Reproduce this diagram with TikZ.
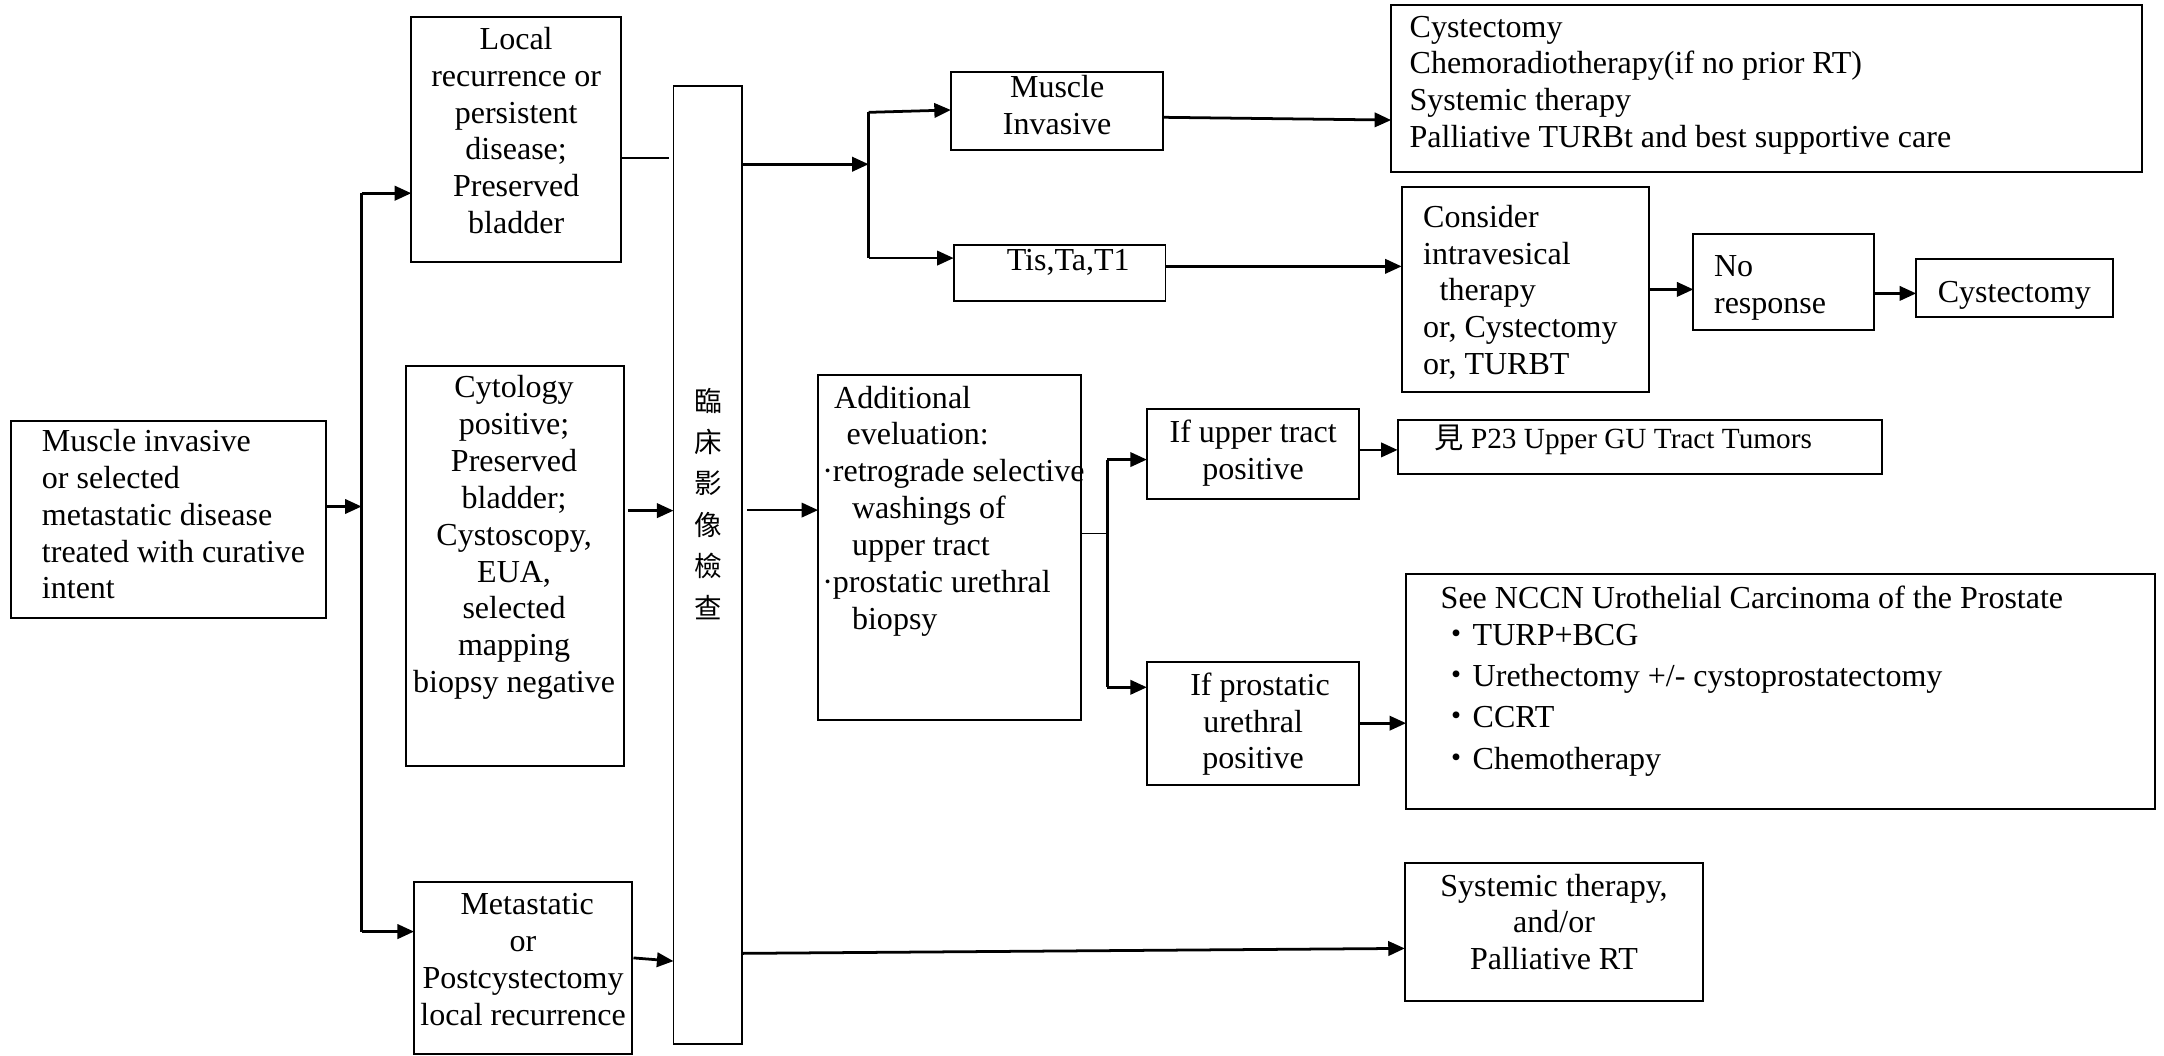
\documentclass[tikz,border=0pt]{standalone}
\usepackage{fontspec}
\setmainfont{Liberation Serif}
\newfontfamily\cjk{Noto Sans CJK TC}
\usetikzlibrary{arrows.meta,fit}

\begin{document}
\begin{tikzpicture}[x=0.5pt,y=-0.5pt,
  box/.style={draw, line width=0.7pt, inner sep=0pt, outer sep=0pt, rectangle},
  txt/.style={inner sep=0pt, yshift=-2pt, font=\fontsize{11.6}{13.35}\selectfont,
    execute at begin node=\strut, execute at end node=\strut},
  arr/.style={line width=1pt, -{Triangle[length=6pt,width=5.2pt]}},
  ln/.style={line width=1pt},
  thinln/.style={line width=0.65pt}]

\useasboundingbox (0,0) rectangle (1568,765);

% ---- boxes ----
\node[box, fit={(8,305) (236,448)}]          (main)  {};
\node[box, fit={(298,12) (450,190)}]         (local) {};
\node[box, fit={(294,265) (452,555)}]        (cyto)  {};
\node[box, fit={(300,639) (458,764)}]        (meta)  {};
\node[box, fit={(488,62) (537.5,756.5)}]     (bar)   {};
\node[box, fit={(689,52.5) (843,108.5)}]     (mus)   {};
\node[box, fit={(691,177.5) (844.5,218)}]    (tis)   {};
\node[box, fit={(1008,3.6) (1551.8,124.4)}]  (cyst)  {};
\node[box, fit={(1015.6,135.3) (1194.6,283.8)}] (cons) {};
\node[box, fit={(1227,169.8) (1358,239)}]    (nores) {};
\node[box, fit={(1388.4,188) (1531,230)}]    (cysttwo) {};
\node[box, fit={(592.8,271.7) (783,521.7)}]  (add)   {};
\node[box, fit={(831,296.4) (984.8,361.8)}]  (upper) {};
\node[box, fit={(831,479.5) (984.8,568.8)}]  (prost) {};
\node[box, fit={(1012.7,304.3) (1363.8,343.5)}] (see) {};
\node[box, fit={(1018.8,416) (1561.6,586.4)}] (nccn) {};
\node[box, fit={(1017.9,625) (1233.9,725)}]  (sys)   {};

% ---- texts ----
\node[txt, anchor=west, align=left] (mainT) at (30,372.5)
  {Muscle invasive\\or selected\\metastatic disease\\treated with curative\\intent};
\node[txt, align=center] (localT) at (374,94.5)
  {Local\\recurrence or\\persistent\\disease;\\Preserved\\bladder};
\node[txt, align=center] (cytoT) at (372.5,387)
  {Cytology\\positive;\\Preserved\\bladder;\\Cystoscopy,\\EUA,\\selected\\mapping\\biopsy negative};
\node[txt, align=center] (metaT) at (379,695)
  {\hspace*{3pt}Metastatic\\or\\Postcystectomy\\local recurrence};
\node[inner sep=0pt, align=center, font=\cjk\fontsize{10}{15}\selectfont] (barT) at (513,365)
  {臨\\床\\影\\像\\檢\\查};
\node[txt, align=center] (musT) at (766,76) {Muscle\\Invasive};
\node[txt] (tisT) at (774,187) {Tis,Ta,T1};
\node[txt, anchor=west, align=left] (cystT) at (1021,59.2)
  {Cystectomy\\Chemoradiotherapy(if no prior RT)\\Systemic therapy\\Palliative TURBt and best supportive care};
\node[txt, anchor=west, align=left] (consT) at (1030.8,210)
  {Consider\\intravesical\\\hspace*{6pt}therapy\\or, Cystectomy\\or, TURBT};
\node[txt, anchor=west, align=left] (noresT) at (1241.6,206) {No\\response};
\node[txt] (cysttwoT) at (1459.5,210) {Cystectomy};
\node[txt, anchor=west, align=left] (addT) at (595.4,367.7)
  {\hspace*{4.3pt}Additional\\\hspace*{8.8pt}eveluation:\\·retrograde selective\\\hspace*{10.8pt}washings of\\\hspace*{10.8pt}upper tract\\·prostatic urethral\\\hspace*{10.8pt}biopsy};
\node[txt, align=center] (upperT) at (908,326.1) {If upper tract\\positive};
\node[txt, align=center] (prostT) at (908,522.3) {\hspace*{5pt}If prostatic\\urethral\\positive};
\node[inner sep=0pt, anchor=west, font=\fontsize{10.6}{12.2}\selectfont] (seeT) at (1039,318.8)
  {{\cjk 見} P23 Upper GU Tract Tumors};
\node[txt, anchor=west, align=left] (nccnT) at (1043.5,491)
  {See NCCN Urothelial Carcinoma of the Prostate\\
   {\cjk ・}TURP+BCG\\[1.6pt]
   {\cjk ・}Urethectomy +/- cystoprostatectomy\\[1.6pt]
   {\cjk ・}CCRT\\[1.6pt]
   {\cjk ・}Chemotherapy};
\node[txt, align=center] (sysT) at (1126,667.9) {Systemic therapy,\\and/or\\Palliative RT};

% ---- left fan-out ----
\coordinate (ja) at (262,140);
\coordinate (jb) at (262,675);
\coordinate (jm) at (262,367);
\draw[ln] (ja) -- (jb);
\draw[arr] (main.east |- jm) -- (jm);
\draw[arr] (ja) -- (local.west |- ja);
\draw[arr] (jb) -- (meta.west |- jb);

% ---- into the imaging bar ----
\draw[thinln, shorten >=1.5pt] (local.east |- 0,114.5) -- (bar.west |- 0,114.5);
\draw[arr, shorten <=1.5pt] (cyto.east |- 0,370) -- (bar.west |- 0,370);
\draw[arr, shorten <=0.5pt] (meta.east |- 0,694) -- (bar.west |- 0,696.4);

% ---- upper branch ----
\coordinate (jc) at (629.4,81.4);
\coordinate (jd) at (629.4,187);
\draw[arr] (bar.east |- 0,119) -- (jc |- 0,119);
\draw[ln] (jc) -- (jd);
\draw[arr] (jc) -- (mus.west |- 0,79.7);
\draw[arr] (jd) -- (tis.west |- jd);
\draw[arr] (mus.east |- 0,85) -- (cyst.west |- 0,87);
\draw[arr] (tis.east |- 0,193) -- (cons.west |- 0,193);
\draw[arr] (cons.east |- 0,209.7) -- (nores.west |- 0,209.7);
\draw[arr] (nores.east |- 0,212.6) -- (cysttwo.west |- 0,212.6);

% ---- middle branch ----
\draw[arr, shorten <=2pt] (bar.east |- 0,369.6) -- (add.west |- 0,369.6);
\coordinate (je) at (802.4,333);
\coordinate (jf) at (802.4,498);
\draw[thinln] (add.east |- 0,386.5) -- (je |- 0,386.5);
\draw[ln] (je) -- (jf);
\draw[arr] (je) -- (upper.west |- je);
\draw[arr] (jf) -- (prost.west |- jf);
\draw[arr] (upper.east |- 0,326) -- (see.west |- 0,326);
\draw[arr] (prost.east |- 0,524) -- (nccn.west |- 0,524);

% ---- lower branch ----
\draw[arr] (bar.east |- 0,690.8) -- (sys.west |- 0,687.2);

\end{tikzpicture}
\end{document}
